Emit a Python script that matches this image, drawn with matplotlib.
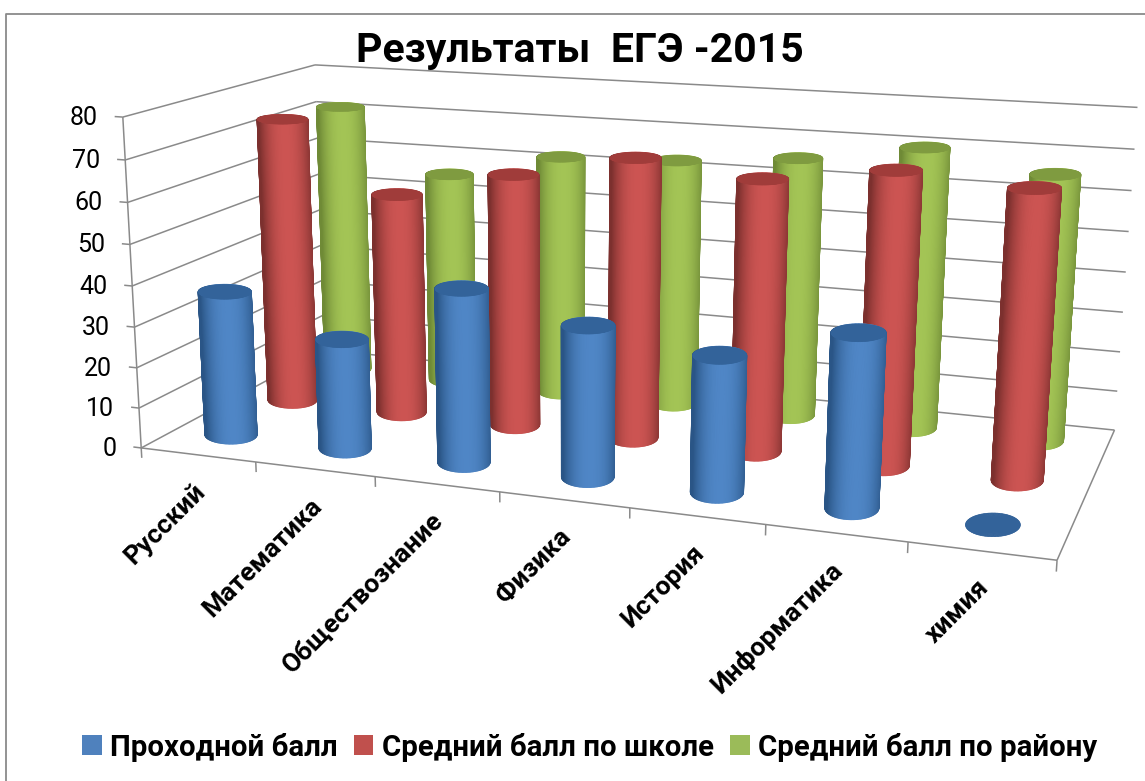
#!/usr/bin/env python3
"""Результаты ЕГЭ 2015: 3D cylinder columns, seen through a camera fitted to the picture."""

import matplotlib
matplotlib.use('Agg')
import matplotlib.pyplot as plt
from matplotlib.lines import Line2D
from matplotlib.patches import Patch
from mpl_toolkits.mplot3d import proj3d
from mpl_toolkits.mplot3d.art3d import Line3DCollection
import numpy as np

# ─── Data ──────────────────────────────────────────────
categories = ['Русский', 'Математика', 'Обществознание', 'Физика',
              'История', 'Информатика', 'химия']
series_names = ['Проходной балл', 'Средний балл по школе', 'Средний балл по району']
passing = [36, 27, 42, 36, 32, 40, 0]
school = [73, 56, 63, 69, 66, 70, 68]
district = [71.5, 55.5, 62, 63, 65.5, 70, 65.5]
z_ticks = [0, 10, 20, 30, 40, 50, 60, 70, 80]

# ─── Style ─────────────────────────────────────────────
W, H = 1145, 781
FONT = ['Roboto', 'DejaVu Sans']
GRID = '#8a8a8a'
SIDE = ['#4f86c6', '#cc5452', '#a3c455']
EDGE = ['#2a5586', '#7c302e', '#6f8a36']
TOP = ['#33639a', '#a03c3a', '#7f9b40']
LEGEND = ['#4f81bd', '#c0504d', '#9bbb59']
RX, RY = 0.185, 0.24

# ─── Camera: (category, depth, value) -> pixel ─────────
world = np.array([(0, 0, 0), (0, 0, 80), (0, 3, 80), (0, 3, 0),
                  (7, 3, 0), (7, 3, 80), (7, 0, 0)], float)
pixel = np.array([(143, 446), (121, 117.5), (317, 64), (322, 352),
                  (1115, 428), (1137, 108), (1057, 562)], float)
rows = []
for (x, y, z), (u, v) in zip(world, pixel):
    u, v = u / 1000, v / 1000
    rows.append([x, y, z, 1, 0, 0, 0, 0, -u * x, -u * y, -u * z, -u])
    rows.append([0, 0, 0, 0, x, y, z, 1, -v * x, -v * y, -v * z, -v])
P = np.linalg.svd(np.array(rows))[2][-1].reshape(3, 4)
if P[2] @ np.array([3.5, 1.5, 40, 1]) < 0:
    P = -P
P[:2] *= 1000
M = np.array([P[0], P[1], [0, 0, 0, -1], P[2]])

fig = plt.figure(figsize=(W / 100, H / 100), dpi=100, facecolor='white')
ax = fig.add_subplot(projection='3d')
ax.set_position([0, 0, 1, 1])
ax.apply_aspect = lambda position=None: None
ax.get_proj = lambda: M
ax.computed_zorder = False
ax.set_axis_off()


def to_px(x, y, z):
    u, v, _ = proj3d.proj_transform(x, y, z, M)
    return float(u), float(v)


# ─── Walls, floor, ticks ───────────────────────────────
n_cat = len(categories)
segments = []
for t in z_ticks:
    segments.append([(0, 3, t), (n_cat, 3, t)])
    segments.append([(0, 0, t), (0, 3, t)])
    segments.append([(-0.07, 0, t), (0, 0, t)])
segments.append([(0, 0, 0), (0, 0, z_ticks[-1])])
segments.append([(0, 0, 0), (n_cat, 0, 0)])
segments.append([(n_cat, 0, 0), (n_cat, 3, 0)])
for i in range(n_cat + 1):
    segments.append([(i, 0, 0), (i, 0, -2.5)])
grid = Line3DCollection(segments, colors=GRID, linewidths=1.1, zorder=1)
ax.add_collection3d(grid)


# ─── Cylinders ─────────────────────────────────────────
def cylinder(cx, cy, value, s, order):
    theta = np.linspace(0, 2 * np.pi, 121)
    # local floor -> screen step, so the ellipses come out level on screen like Excel's
    u0, v0 = to_px(cx, cy, 0)
    u1, v1 = to_px(cx + 0.01, cy, 0)
    u2, v2 = to_px(cx, cy + 0.01, 0)
    J = np.array([[u1 - u0, u2 - u0], [v1 - v0, v2 - v0]]) / 0.01
    half_w = np.hypot(J[0, 0] * RX, J[0, 1] * RY)
    half_h = np.hypot(J[1, 0] * RX, J[1, 1] * RY)
    dx, dy = np.linalg.inv(J) @ np.array([half_w * np.cos(theta), half_h * np.sin(theta)])
    xs, ys = cx + dx, cy + dy
    if value > 0:
        X = np.tile(xs, (2, 1))
        Y = np.tile(ys, (2, 1))
        Z = np.array([np.zeros_like(theta), np.full_like(theta, value)])
        mid = (theta[:-1] + theta[1:]) / 2
        # lit slightly right of centre, dark towards both silhouettes
        k = np.abs(np.cos(mid) - 0.1).clip(0, 1) ** 2.2
        side = np.array(matplotlib.colors.to_rgb(SIDE[s]))
        edge = np.array(matplotlib.colors.to_rgb(EDGE[s]))
        cols = side[None, :] * (1 - k[:, None]) + edge[None, :] * k[:, None]
        fc = np.ones((1, len(mid), 4))
        fc[0, :, :3] = cols
        ax.plot_surface(X, Y, Z, facecolors=fc, rstride=1, cstride=1, shade=False,
                        linewidth=1.0, zorder=order)
    R = np.array([0, 1])
    X = cx + np.outer(R, dx)
    Y = cy + np.outer(R, dy)
    Z = np.full_like(X, value)
    ax.plot_surface(X, Y, Z, color=TOP[s], rstride=1, cstride=1, shade=False,
                    linewidth=0.5, edgecolor=TOP[s], zorder=order + 0.5)


all_series = [passing, school, district]
for s in (2, 1, 0):
    for i in range(n_cat):
        cylinder(i + 0.48, s + 0.53, all_series[s][i], s, 10 + (2 - s) * 10 + i)

ax.viewLim.intervalx = (0, W)
ax.viewLim.intervaly = (H, 0)

# ─── Text ──────────────────────────────────────────────
for t in z_ticks:
    u, v = to_px(0, 0, t)
    ax.text2D(u - 25, v + 1, str(t), transform=ax.transData, ha='right', va='center',
              fontsize=18, family=FONT, color='black')
for i, name in enumerate(categories):
    u, v = to_px(i + 0.5, 0, 0)
    ax.text2D(u + 3, v + 33, name, transform=ax.transData, ha='right', va='center',
              rotation=45, rotation_mode='anchor', fontsize=19, fontweight='bold',
              family=FONT, color='black')

fig.text(580 / W, 1 - 51 / H, 'Результаты  ЕГЭ -2015', ha='center', va='center',
         fontsize=29.5, fontweight='bold', family=FONT, color='black')

handles = [Patch(facecolor=c, edgecolor='none') for c in LEGEND]
fig.legend(handles, series_names, ncol=3, loc='center', bbox_to_anchor=(590 / W, 1 - 747 / H),
           frameon=False, handlelength=0.65, handleheight=0.65, handletextpad=0.3,
           columnspacing=0.55, prop={'family': FONT, 'weight': 'bold', 'size': 21.2})

# chart frame, only its top and left sides are inside the picture
fig.add_artist(Line2D([6 / W, 6 / W, 1], [0, 1 - 13.5 / H, 1 - 13.5 / H], color=GRID, lw=1.3))

fig.savefig('out.png', dpi=100, facecolor='white')
plt.close(fig)
